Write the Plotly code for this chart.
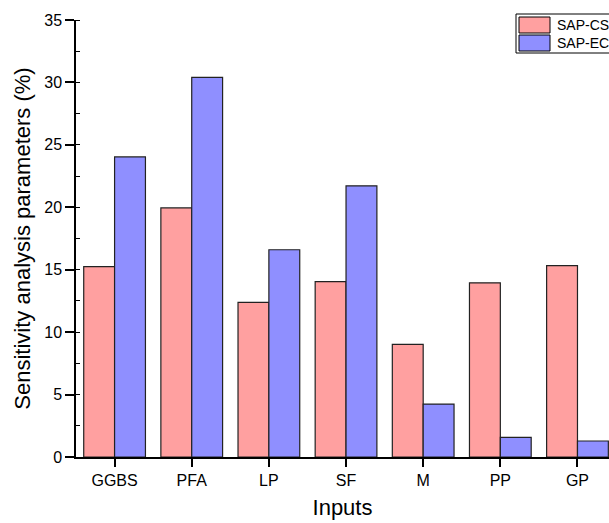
import plotly.graph_objects as go

categories = ["GGBS", "PFA", "LP", "SF", "M", "PP", "GP"]
sap_cs = [15.25, 19.95, 12.38, 14.05, 9.02, 13.95, 15.32]
sap_ec = [24.03, 30.4, 16.6, 21.72, 4.24, 1.57, 1.28]
series_names = ["SAP-CS", "SAP-EC"]
colors = ["#FFA0A0", "#8F8FFF"]

W, H = 609, 523
L, R, T, B = 76, 0, 20, 66
pw = W - L - R
ph = H - T - B

fig = go.Figure()
for name, vals, col in zip(series_names, [sap_cs, sap_ec], colors):
    fig.add_trace(go.Bar(
        x=categories, y=vals, name=name,
        marker=dict(color=col, line=dict(color="#222222", width=1.2)),
        showlegend=False,
    ))

font = "Liberation Sans, Arial, sans-serif"

fig.update_layout(
    width=W, height=H,
    margin=dict(l=L, r=R, t=T, b=B, pad=0),
    paper_bgcolor="white", plot_bgcolor="white",
    barmode="group", bargap=0.2, bargroupgap=0,
    font=dict(family=font, color="black", size=16),
    xaxis=dict(
        range=[-0.5, -0.5 + pw / 77.15],
        showline=True, linecolor="black", linewidth=1.5,
        ticks="outside", ticklen=8, tickwidth=1.5, tickcolor="black",
        showgrid=False, zeroline=False,
        tickfont=dict(size=16),
        title=dict(text="Inputs", font=dict(size=22), standoff=12),
    ),
    yaxis=dict(
        range=[0, 35], dtick=5,
        showline=True, linecolor="black", linewidth=1.5,
        ticks="outside", ticklen=9, tickwidth=1.5, tickcolor="black",
        minor=dict(dtick=2.5, ticks="inside", ticklen=4, tickwidth=1.2, tickcolor="black", showgrid=False),
        showgrid=False, zeroline=False,
        tickfont=dict(size=16),
        title=dict(text="Sensitivity analysis parameters (%)", font=dict(size=22), standoff=8),
    ),
)

# custom legend (pixel -> paper conversion)
def px(x):
    return (x - L) / pw

def py(y):
    return (H - B - y) / ph

fig.add_shape(type="rect", xref="paper", yref="paper",
              x0=px(516), x1=px(612), y0=py(53), y1=py(14),
              line=dict(color="black", width=1), fillcolor="white", layer="above")
for i, (name, col) in enumerate(zip(series_names, colors)):
    y0 = 17 + i * 18
    fig.add_shape(type="rect", xref="paper", yref="paper",
                  x0=px(519), x1=px(550), y0=py(y0 + 16), y1=py(y0),
                  line=dict(color="black", width=1), fillcolor=col, layer="above")
    fig.add_annotation(xref="paper", yref="paper", x=px(555), y=py(y0 + 8),
                       text=name, showarrow=False, xanchor="left", yanchor="middle",
                       font=dict(size=14, color="black", family=font))

fig.write_html(
    "out.html",
    config={"displayModeBar": False},
    post_script="document.body.style.margin='0';document.body.style.overflow='hidden';",
)
